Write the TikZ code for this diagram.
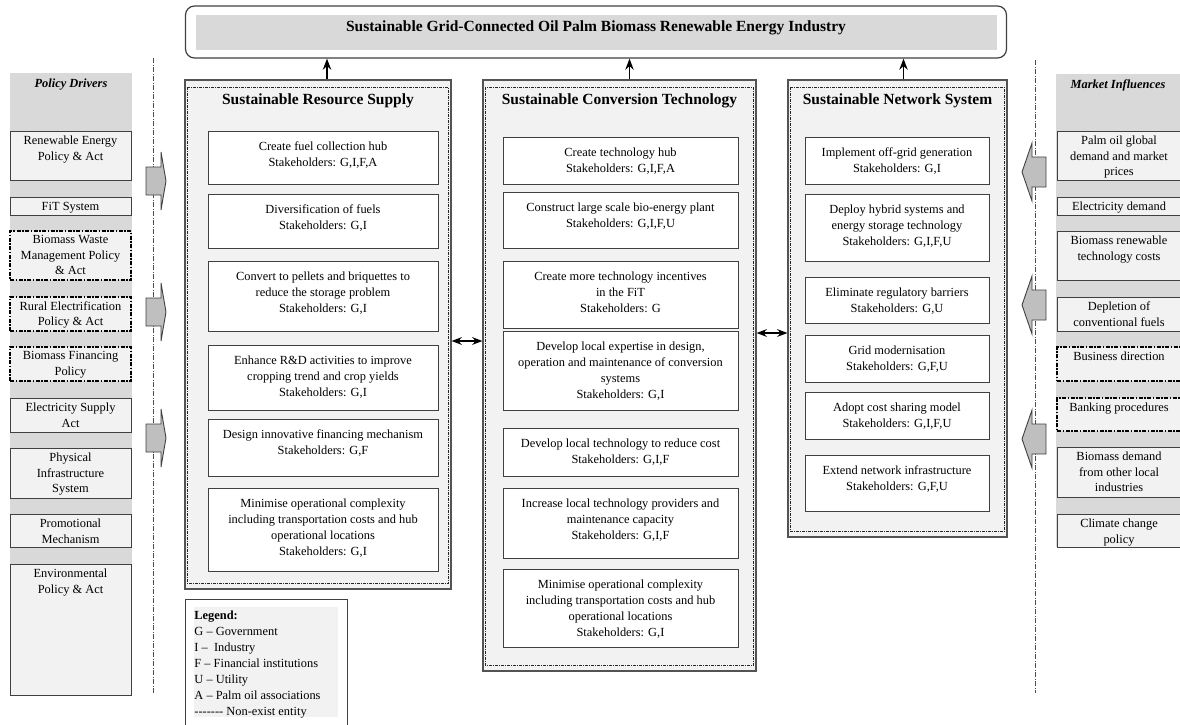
\documentclass[tikz,border=0pt]{standalone}
\usepackage{fontspec}
\setmainfont{Liberation Serif}
\usetikzlibrary{arrows.meta,positioning,calc}
\definecolor{colgrey}{HTML}{D9D9D9}
\definecolor{boxgrey}{HTML}{F2F2F2}
\definecolor{edgegrey}{HTML}{404040}
\definecolor{arrowgrey}{HTML}{BFBFBF}
\tikzset{
    >={Stealth[]},
    every picture/.style={line width=0.9pt},
    titlebox/.style={draw=edgegrey,fill=white,rounded corners=9pt,line width=1.2pt,inner sep=0pt},
    titlefill/.style={fill=colgrey,inner sep=0pt},
    titletext/.style={font=\fontsize{15.5}{18}\selectfont\bfseries,inner sep=0pt},
    panel/.style={draw=edgegrey!90,fill=boxgrey,line width=1.1pt,inner sep=0pt},
    panelin/.style={draw=black!85,line width=1pt,dash pattern=on 3pt off 1pt on 1pt off 1pt},
    paneltitle/.style={font=\fontsize{15.5}{18}\selectfont\bfseries,inner sep=0pt},
    actbox/.style={draw=edgegrey,fill=white,line width=1pt,inner sep=0pt},
    acttext/.style={font=\fontsize{12.4}{16}\selectfont,align=center,inner sep=0pt,anchor=north},
    colback/.style={fill=colgrey,inner sep=0pt},
    colhead/.style={font=\fontsize{12.4}{15}\selectfont\bfseries\itshape,inner sep=0pt},
    colbox/.style={draw=edgegrey,fill=boxgrey,line width=1pt,inner sep=0pt},
    nonbox/.style={draw=black,fill=boxgrey,line width=1.4pt,dash pattern=on 4pt off 1.5pt on 1.5pt off 1.5pt,inner sep=0pt},
    coltext/.style={font=\fontsize{12.4}{15.5}\selectfont,align=center,inner sep=0pt,anchor=north},
    divider/.style={draw=black!70,line width=0.8pt,dash pattern=on 5pt off 1.5pt on 1pt off 1.5pt},
    blockarrow/.style={draw=edgegrey,fill=arrowgrey,line width=0.9pt},
    uplink/.style={->,line width=1.8pt},
    link/.style={<->,line width=1.6pt},
    legendbox/.style={draw=edgegrey,fill=white,line width=1pt,inner sep=0pt},
    legendfill/.style={fill=boxgrey,inner sep=0pt},
    legendtext/.style={font=\fontsize{12.4}{16}\selectfont,align=left,inner sep=0pt}
}
\begin{document}
\begin{tikzpicture}[x=1pt,y=-1pt]
    \useasboundingbox (0,0) rectangle (1180,724);

    % Title
    \node[titlebox, minimum width=821, minimum height=52] (industry) at (596,32) {};
    \node[titlefill, minimum width=801, minimum height=35] (industryF) at (596.5,32.5) {};
    \node[titletext] (industryT) at (596,28) {Sustainable Grid-Connected Oil Palm Biomass Renewable Energy Industry};

    % Dividers
    \draw[divider] (153,58) -- (153,694);
    \draw[divider] (1035,60) -- (1035,693);

    % Policy drivers
    \node[colback, minimum width=122, minimum height=622] (drivers) at (71,384) {};
    \node[colhead] (driversT) at (71,85) {Policy Drivers};
    \foreach \ya/\yb/\txt/\sty [count=\i] in {
        131/180/{Renewable Energy\\Policy \& Act}/colbox,
        197/215/{FiT System}/colbox,
        231/280/{Biomass Waste\\Management Policy\\\& Act}/nonbox,
        297/331/{Rural Electrification\\Policy \& Act}/nonbox,
        347/381/{Biomass Financing\\Policy}/nonbox,
        398/432/{Electricity Supply\\Act}/colbox,
        448/498/{Physical\\Infrastructure\\System}/colbox,
        514/547/{Promotional\\Mechanism}/colbox,
        564/695/{Environmental\\Policy \& Act}/colbox} {
        \node[\sty, minimum width=121, minimum height=\yb-\ya] (pol\i) at (70.5,{(\ya+\yb)/2}) {};
        \node[coltext] (pol\i-t) at ([yshift=-5pt]pol\i.north) {\txt};
    }

    % Market influences
    \node[colback, minimum width=125, minimum height=473] (market) at (1118.5,310.5) {};
    \node[colhead] (marketT) at (1118,85) {Market Influences};
    \foreach \ya/\yb/\txt/\sty [count=\i] in {
        131/180/{Palm oil global\\demand and market\\prices}/colbox,
        197/215/{Electricity demand}/colbox,
        231/280/{Biomass renewable\\technology costs}/colbox,
        297/331/{Depletion of\\conventional fuels}/colbox,
        347/381/{Business direction}/nonbox,
        398/431/{Banking procedures}/nonbox,
        447/497/{Biomass demand\\from other local\\industries}/colbox,
        514/547/{Climate change\\policy}/colbox} {
        \node[\sty, minimum width=124, minimum height=\yb-\ya] (mkt\i) at (1119,{(\ya+\yb)/2}) {};
        \node[coltext] (mkt\i-t) at ([yshift=-5pt]mkt\i.north) {\txt};
    }

    % Block arrows
    \foreach \yc in {181,312,438}
        \draw[blockarrow] (146,\yc-14) -- (161,\yc-14) -- (161,\yc-29) -- (166,\yc) -- (161,\yc+29) -- (161,\yc+14) -- (146,\yc+14) -- cycle;
    \foreach \yc in {172,305,439}
        \draw[blockarrow] (1046,\yc-15) -- (1032,\yc-15) -- (1032,\yc-29) -- (1022,\yc) -- (1032,\yc+29) -- (1032,\yc+15) -- (1046,\yc+15) -- cycle;

    % Panels
    \node[panel, minimum width=266, minimum height=509] (supply) at (318,334.5) {};
    \node[panel, minimum width=273, minimum height=591] (conv) at (619.5,375.5) {};
    \node[panel, minimum width=219, minimum height=457] (network) at (897.5,308.5) {};
    \foreach \p in {supply,conv,network}
        \draw[panelin] ([shift={(3pt,-8pt)}]\p.north west) rectangle ([shift={(-3pt,6pt)}]\p.south east);
    \node[paneltitle] (supplyT) at ([yshift=-21pt]supply.north) {Sustainable Resource Supply};
    \node[paneltitle] (convT) at ([yshift=-21pt]conv.north) {Sustainable Conversion Technology};
    \node[paneltitle] (networkT) at ([yshift=-21pt]network.north) {Sustainable Network System};

    % Resource supply actions
    \foreach \ya/\yb/\txt [count=\i] in {
        131/184/{Create fuel collection hub\\Stakeholders: G,I,F,A},
        194/248/{Diversification of fuels\\Stakeholders: G,I},
        261/331/{Convert to pellets and briquettes to\\reduce the storage problem\\Stakeholders: G,I},
        345/410/{Enhance R\&D activities to improve\\cropping trend and crop yields\\Stakeholders: G,I},
        419/476/{Design innovative financing mechanism\\Stakeholders: G,F},
        488/571/{Minimise operational complexity\\including transportation costs and hub\\operational locations\\Stakeholders: G,I}} {
        \node[actbox, minimum width=230, minimum height=\yb-\ya] (sup\i) at (323,{(\ya+\yb)/2}) {};
        \node[acttext] (sup\i-t) at ([yshift=-11pt]sup\i.north) {\txt};
    }

    % Conversion technology actions
    \foreach \ya/\yb/\txt [count=\i] in {
        137/184/{Create technology hub\\Stakeholders: G,I,F,A},
        192/248/{Construct large scale bio-energy plant\\Stakeholders: G,I,F,U},
        261/328/{Create more technology incentives\\in the FiT\\Stakeholders: G},
        331/410/{Develop local expertise in design,\\operation and maintenance of conversion\\systems\\Stakeholders: G,I},
        428/476/{Develop local technology to reduce cost\\Stakeholders: G,I,F},
        488/558/{Increase local technology providers and\\maintenance capacity\\Stakeholders: G,I,F},
        569/647/{Minimise operational complexity\\including transportation costs and hub\\operational locations\\Stakeholders: G,I}} {
        \node[actbox, minimum width=235, minimum height=\yb-\ya] (tec\i) at (620.5,{(\ya+\yb)/2}) {};
        \node[acttext] (tec\i-t) at ([yshift=-11pt]tec\i.north) {\txt};
    }

    % Network system actions
    \foreach \ya/\yb/\txt [count=\i] in {
        137/184/{Implement off-grid generation\\Stakeholders: G,I},
        194/261/{Deploy hybrid systems and\\energy storage technology\\Stakeholders: G,I,F,U},
        277/323/{Eliminate regulatory barriers\\Stakeholders: G,U},
        335/382/{Grid modernisation\\Stakeholders: G,F,U},
        392/439/{Adopt cost sharing model\\Stakeholders: G,I,F,U},
        455/511/{Extend network infrastructure\\Stakeholders: G,F,U}} {
        \node[actbox, minimum width=184, minimum height=\yb-\ya] (net\i) at (897,{(\ya+\yb)/2}) {};
        \node[acttext] (net\i-t) at ([yshift=-11pt]net\i.north) {\txt};
    }

    % Links
    \draw[uplink] ([xshift=9pt]supply.north) -- ([xshift=9pt]supply.north |- industry.south);
    \draw[uplink] ([xshift=10pt]conv.north) -- ([xshift=10pt]conv.north |- industry.south);
    \draw[uplink] ([xshift=6pt]network.north) -- ([xshift=6pt]network.north |- industry.south);
    \coordinate (dl) at ([yshift=-6.5pt]supply.east);
    \coordinate (dr) at ([yshift=42.5pt]conv.east);
    \draw[link] (dl) -- (dl -| conv.west);
    \draw[link] (dr) -- (dr -| network.west);

    % Legend
    \node[legendbox, minimum width=162, minimum height=131] (legend) at (266,664.5) {};
    \node[legendfill, minimum width=144, minimum height=110] (legendF) at (266,662) {};
    \node[legendtext, anchor=north west] (legendT) at (194,610) {\textbf{Legend:}\\G -- Government\\I --\ \ Industry\\F -- Financial institutions\\U -- Utility\\A -- Palm oil associations\\-{}-{}-{}-{}-{}-{}- Non-exist entity};
\end{tikzpicture}
\end{document}
